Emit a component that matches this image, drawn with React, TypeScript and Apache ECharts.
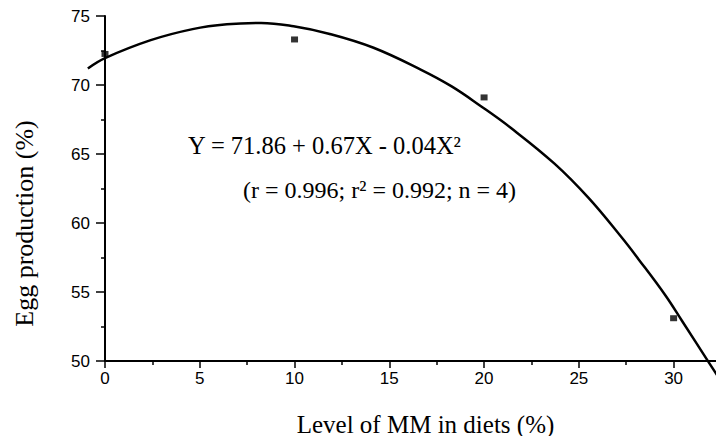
import React, { useEffect, useRef } from "react";
import * as echarts from "echarts";

// Observed data points (level of MM, egg production %)
const levels = [0, 10, 20, 30];
const eggProduction = [72.25, 73.3, 69.1, 53.1];

// Fitted curve
const curveX = [-0.9, 0, 2.4, 4.6, 6.4, 8.2, 9.9, 11.8, 14.1, 16.6, 18.2, 19.7, 21.3, 23.6, 25.4, 27.1, 28, 29.4, 30.3, 31.7, 32.6];
const curveY = [71.2, 71.95, 73.25, 74.05, 74.4, 74.5, 74.25, 73.7, 72.7, 71.1, 69.9, 68.5, 66.9, 64.3, 61.8, 59.0, 57.4, 54.8, 52.9, 49.9, 48.0];

const equationText = "Y = 71.86 + 0.67X - 0.04X²";
const statsText = "(r = 0.996; r² = 0.992; n = 4)";
const xTitle = "Level of MM in diets (%)";
const yTitle = "Egg production (%)";

const X_MIN = 0;
const X_MAX = 32.5;
const Y_MIN = 50;
const Y_MAX = 75;

export default function App() {
  const ref = useRef<HTMLDivElement>(null);
  useEffect(() => {
    if (!ref.current) return;
    const chart = echarts.init(ref.current, undefined, { renderer: "svg" });
    const serif = "Liberation Serif, Times New Roman, serif";
    const sans = "Liberation Sans, Arial, sans-serif";
    const gridLeft = 105;
    const gridRight = 0;
    const plotW = 724 - gridLeft - gridRight;
    const pxPerUnit = plotW / (X_MAX - X_MIN);
    // second (hidden) grid with the same scale, extended one unit to the left so the
    // fitted curve can start left of the Y axis as in the original
    const curveMin = -1;
    const curveGridLeft = gridLeft - (X_MIN - curveMin) * pxPerUnit;

    chart.setOption({
      animation: false,
      backgroundColor: "#fff",
      grid: [
        { left: gridLeft, right: gridRight, top: 16, bottom: 83 },
        { left: curveGridLeft, right: gridRight, top: 16, bottom: 83 },
      ],
      xAxis: [
        {
          type: "value",
          gridIndex: 0,
          min: X_MIN,
          max: X_MAX,
          interval: 5,
          name: xTitle,
          nameLocation: "middle",
          nameGap: 51,
          nameTextStyle: { fontFamily: serif, fontSize: 25, color: "#000", padding: [0, 0, 0, 25] },
          axisLine: { show: true, onZero: false, lineStyle: { color: "#000", width: 2 } },
          axisTick: { show: true, length: 7, lineStyle: { color: "#000", width: 1.5 } },
          minorTick: { show: true, splitNumber: 2, length: 4, lineStyle: { color: "#000", width: 1.5 } },
          splitLine: { show: false },
          axisLabel: {
            fontFamily: sans,
            fontSize: 17,
            color: "#000",
            margin: 9,
            formatter: (v: number) => (v % 5 === 0 ? String(v) : ""),
          },
        },
        {
          type: "value",
          gridIndex: 1,
          min: curveMin,
          max: X_MAX,
          show: false,
        },
      ],
      yAxis: [
        {
          type: "value",
          gridIndex: 0,
          min: Y_MIN,
          max: Y_MAX,
          interval: 5,
          name: yTitle,
          nameLocation: "middle",
          nameGap: 68,
          nameTextStyle: { fontFamily: serif, fontSize: 26, color: "#000", padding: [0, 70, 0, 0] },
          axisLine: { show: true, onZero: false, lineStyle: { color: "#000", width: 2 } },
          axisTick: { show: true, length: 9, lineStyle: { color: "#000", width: 1.5 } },
          minorTick: { show: true, splitNumber: 2, length: 4, lineStyle: { color: "#000", width: 1.5 } },
          splitLine: { show: false },
          axisLabel: { fontFamily: sans, fontSize: 17, color: "#000", margin: 15 },
        },
        {
          type: "value",
          gridIndex: 1,
          min: Y_MIN,
          max: Y_MAX,
          show: false,
        },
      ],
      graphic: [
        {
          type: "text",
          left: 188,
          top: 133,
          style: { text: equationText, font: `24.5px ${serif}`, fill: "#000" },
        },
        {
          type: "text",
          left: 243,
          top: 178,
          style: { text: statsText, font: `24px ${serif}`, fill: "#000" },
        },
      ],
      series: [
        {
          type: "line",
          xAxisIndex: 1,
          yAxisIndex: 1,
          data: curveX.map((x, i) => [x, curveY[i]]),
          smooth: 0.4,
          clip: false,
          showSymbol: false,
          symbol: "none",
          lineStyle: { color: "#000", width: 2.5 },
          z: 2,
        },
        {
          type: "scatter",
          xAxisIndex: 0,
          yAxisIndex: 0,
          data: levels.map((x, i) => [x, eggProduction[i]]),
          symbol: "rect",
          symbolSize: [7, 6],
          itemStyle: { color: "#000" },
          clip: false,
          z: 3,
        },
      ],
    });
    return () => chart.dispose();
  }, []);
  return <div ref={ref} style={{ width: 724, height: 444, margin: -8 }} />;
}
